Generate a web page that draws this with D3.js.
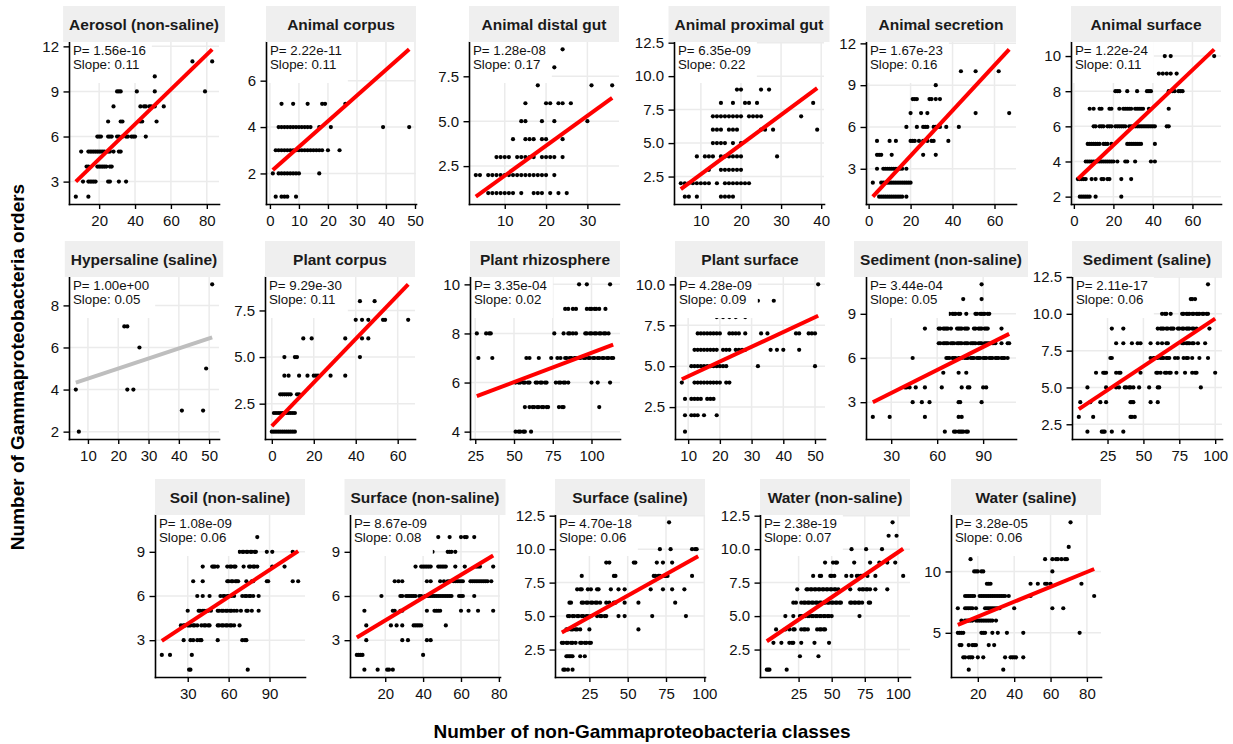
<!DOCTYPE html>
<html>
<head>
<meta charset="utf-8">
<script src="https://cdn.jsdelivr.net/npm/d3@7"></script>
<style>
  body { margin: 0; background: #fff; }
  svg { display: block; font-family: "Liberation Sans", Arial, sans-serif; }
</style>
</head>
<body>
<div id="chart"></div>
<script>
// facet names, stats and ticks

const facetNames = ["Aerosol (non-saline)", "Animal corpus", "Animal distal gut", "Animal proximal gut",
  "Animal secretion", "Animal surface", "Hypersaline (saline)", "Plant corpus", "Plant rhizosphere",
  "Plant surface", "Sediment (non-saline)", "Sediment (saline)", "Soil (non-saline)",
  "Surface (non-saline)", "Surface (saline)", "Water (non-saline)", "Water (saline)"];

const pValues = [1.56e-16, 2.22e-11, 1.28e-8, 6.35e-9, 1.67e-23, 1.22e-24, 1.00, 9.29e-30, 3.35e-4,
  4.28e-9, 3.44e-4, 2.11e-17, 1.08e-9, 8.67e-9, 4.70e-18, 2.38e-19, 3.28e-5];

const slopes = [0.11, 0.11, 0.17, 0.22, 0.16, 0.11, 0.05, 0.11, 0.02, 0.09, 0.05, 0.06, 0.06, 0.08,
  0.06, 0.07, 0.06];

// fitted line end points: [x0, y0, x1, y1]
const fitLines = [
  [7, 3.0, 83, 11.8], [1, 2.15, 48, 7.35], [3, 0.8, 36, 6.3], [5, 1.56, 39, 9.1],
  [2, 1.0, 67, 11.57], [2, 3.0, 71, 10.38], [6, 4.33, 51, 6.48], [0, 1.3, 65, 8.9],
  [26, 5.45, 114, 7.54], [8, 4.2, 51, 8.08], [18, 3.0, 107, 7.64], [5, 3.53, 100, 9.67],
  [11, 2.95, 111, 9.05], [5, 3.18, 77, 8.75], [7, 3.78, 96, 9.46], [1, 3.12, 104, 10.03],
  [9, 5.65, 84, 10.2]];

const xTicks = [[20, 40, 60, 80], [0, 10, 20, 30, 40, 50], [10, 20, 30], [10, 20, 30, 40],
  [0, 20, 40, 60], [0, 20, 40, 60], [10, 20, 30, 40, 50], [0, 20, 40, 60], [25, 50, 75, 100],
  [10, 20, 30, 40, 50], [30, 60, 90], [25, 50, 75, 100], [30, 60, 90], [20, 40, 60, 80],
  [25, 50, 75, 100], [25, 50, 75, 100], [20, 40, 60, 80]];

const yTicks = [[3, 6, 9, 12], [2, 4, 6], [2.5, 5, 7.5], [2.5, 5, 7.5, 10, 12.5], [3, 6, 9, 12],
  [2, 4, 6, 8, 10], [2, 4, 6, 8], [2.5, 5, 7.5], [4, 6, 8, 10], [2.5, 5, 7.5, 10], [3, 6, 9],
  [2.5, 5, 7.5, 10, 12.5], [3, 6, 9], [3, 6, 9], [2.5, 5, 7.5, 10, 12.5], [2.5, 5, 7.5, 10, 12.5],
  [5, 10]];

// points: [orders, [classes...]]
const ptsAerosol = [
  [2, [7, 14]],
  [3, [11, 14, 15, 16, 17, 18, 25, 26, 31, 35]],
  [4, [13, 14, 19, 20, 21, 22, 23, 24, 26, 27]],
  [5, [10, 14, 15, 16, 17, 18, 19, 20, 21, 22, 23, 25, 26, 28, 31, 32]],
  [6, [19, 20, 21, 25, 26, 27, 30, 31, 33, 35, 36, 38, 39, 40, 46]],
  [7, [25, 32, 33, 43, 44, 52]],
  [8, [28, 43, 45, 46, 48, 49, 51, 56]],
  [9, [30, 31, 32, 41, 51, 79]],
  [10, [51]],
  [11, [72, 83]]];

const ptsAnimalCorpus = [
  [1, [2, 4, 5, 6, 9]],
  [2, [1, 3, 4, 5, 6, 7, 8, 9, 10, 17]],
  [3, [2, 3, 4, 5, 6, 7, 8, 9, 10, 11, 12, 13, 14, 15, 16, 17, 18, 20, 24]],
  [4, [3, 4, 5, 6, 7, 8, 9, 10, 11, 12, 13, 14, 17, 21, 39, 48]],
  [5, [4, 8, 13, 18, 19, 26]]];

const ptsDistalGut = [
  [1, [6, 7, 8, 9, 10, 11, 12, 14, 17, 18, 19, 21, 23, 25]],
  [2, [3, 4, 6, 7, 8, 9, 10, 11, 12, 13, 14, 15, 16, 17, 18, 19, 20, 22]],
  [3, [8, 9, 10, 11, 13, 14, 15, 16, 17, 19, 20, 21, 22, 24]],
  [4, [12, 15, 16, 17, 19, 20, 24]],
  [5, [14, 15, 19, 22, 30]],
  [6, [15, 20, 21, 23, 24, 26]],
  [7, [18, 31, 36]],
  [8, [22]],
  [9, [24]]];

const ptsProximalGut = [
  [1, [6, 7, 9, 15, 16, 17, 18]],
  [2, [5, 6, 7, 8, 9, 10, 11, 12, 14, 16, 17, 18, 19, 20, 21, 22]],
  [3, [12, 15, 16, 17, 18, 19, 20]],
  [4, [9, 11, 12, 13, 15, 16, 17, 18, 19, 20, 29]],
  [5, [13, 14, 15, 16, 18, 20]],
  [6, [13, 14, 15, 17, 18, 19, 25, 26, 28, 39]],
  [7, [13, 14, 15, 16, 17, 18, 19, 20, 22, 23, 24, 25, 35]],
  [8, [15, 18, 21, 22, 24, 38]],
  [9, [19, 20, 25, 27]],
  [12, [10]]];

const ptsSecretion = [
  [1, [5, 6, 7, 8, 9, 10, 11, 12, 13, 14, 15, 16, 18]],
  [2, [2, 6, 7, 8, 9, 10, 11, 12, 13, 14, 15, 16, 17, 18, 19, 20]],
  [3, [4, 7, 8, 9, 10, 11, 12, 13, 14, 15, 16, 18]],
  [4, [4, 5, 6, 11, 26, 32]],
  [5, [4, 10, 13, 20, 21, 22, 24, 26, 28, 30, 31, 38]],
  [6, [18, 23, 26, 27, 28, 31, 32, 33, 34, 37, 43]],
  [7, [20, 25, 28, 51, 67]],
  [8, [21, 22, 23, 29, 30, 32, 34]],
  [9, [32]],
  [10, [44, 51, 62]]];

const ptsAnimalSurface = [
  [2, [3, 4, 5, 6, 7, 8, 11, 24]],
  [3, [2, 3, 4, 5, 6, 9, 11, 14, 15, 17, 18, 24, 29]],
  [4, [6, 7, 8, 9, 10, 11, 12, 13, 14, 15, 16, 17, 18, 19, 20, 22, 26, 27, 31, 39, 41]],
  [5, [7, 8, 9, 10, 11, 12, 13, 15, 16, 17, 19, 27, 28, 29, 30, 31, 32, 33, 34, 41]],
  [6, [10, 11, 13, 14, 15, 17, 18, 19, 21, 22, 23, 24, 25, 26, 28, 29, 30, 31, 32, 33, 34, 35, 36,
    37, 38, 39, 40, 41, 47, 48]],
  [7, [8, 10, 13, 14, 18, 19, 23, 25, 26, 27, 28, 29, 31, 32, 33, 34, 35, 38, 48]],
  [8, [21, 22, 23, 27, 32, 37, 38, 39, 48, 49, 50, 51, 53, 54, 55]],
  [9, [43, 45, 47, 49, 52]],
  [10, [46, 49, 71]]];

const ptsHypersaline = [
  [2, [7]],
  [3, [41, 48]],
  [4, [6, 23, 25]],
  [5, [49]],
  [6, [27]],
  [7, [22, 23]],
  [9, [51]]];

const ptsPlantCorpus = [
  [1, [0, 1, 2, 3, 4, 5, 6, 7, 8, 9, 10, 11]],
  [2, [1, 2, 3, 4, 5, 6, 7, 8, 9, 10, 11]],
  [3, [4, 5, 6, 7, 8, 9, 12, 13]],
  [4, [6, 8, 13, 17, 20, 21, 22, 28, 35]],
  [5, [6, 11, 12, 42]],
  [6, [15, 19, 35, 43, 46]],
  [7, [40, 43, 46, 53, 54, 65]],
  [8, [42, 49]]];

const ptsRhizosphere = [
  [4, [51, 53, 54, 56, 57, 61]],
  [5, [57, 60, 62, 63, 65, 66, 68, 69, 71, 72, 79, 81, 82, 105]],
  [6, [51, 53, 54, 56, 57, 59, 60, 64, 65, 67, 68, 70, 71, 77, 79, 80, 82, 83, 85, 100, 104, 112]],
  [7, [27, 36, 58, 60, 66, 74, 78, 80, 83, 84, 86, 87, 89, 90, 92, 93, 95, 96, 98, 99, 101, 102,
    104, 105, 107, 108, 110, 111, 113, 114]],
  [8, [26, 32, 34, 35, 76, 82, 85, 86, 88, 90, 96, 97, 99, 100, 102, 103, 105, 106, 108, 109, 111]],
  [9, [83, 85, 88, 90, 97, 99, 100, 102, 103, 105, 109]],
  [10, [92, 97, 112]]];

const ptsPlantSurface = [
  [1, [9]],
  [2, [9, 11, 12, 13, 15, 19]],
  [3, [9, 11, 12, 13, 14, 16, 17, 18]],
  [4, [8, 12, 13, 14, 15, 16, 17, 18, 19, 20, 22, 23]],
  [5, [11, 12, 13, 14, 15, 16, 17, 18, 19, 20, 21, 22, 32, 50]],
  [6, [12, 13, 14, 15, 16, 17, 18, 19, 21, 22, 23, 25, 26, 27, 28, 36, 38, 40, 45]],
  [7, [13, 14, 15, 16, 17, 18, 19, 20, 23, 24, 25, 26, 28, 33, 35, 44, 45, 48, 49, 50]],
  [8, [19, 21, 23, 25, 28]],
  [9, [32, 37]],
  [10, [51]]];

const ptsSedimentNonSaline = [
  [1, [65, 71, 72, 74, 75, 76, 77, 79, 80]],
  [2, [18, 29, 52, 74, 76]],
  [3, [44, 50, 55, 74, 75, 89]],
  [4, [39, 40, 42, 46, 52, 63, 76, 80, 81, 90, 92]],
  [5, [64, 74, 79]],
  [6, [44, 66, 67, 68, 70, 71, 72, 74, 75, 76, 78, 79, 80, 82, 83, 84, 86, 87, 88, 90, 91, 92, 94,
    95, 96, 98, 99, 100, 102, 103, 104, 106]],
  [7, [61, 62, 64, 65, 66, 67, 69, 70, 71, 73, 74, 75, 76, 78, 79, 80, 82, 83, 84, 85, 87, 88, 89,
    91, 92, 93, 94, 96, 97, 98, 102, 106, 107]],
  [8, [52, 61, 62, 64, 65, 66, 67, 69, 73, 74, 75, 76, 78, 79, 80, 84, 85, 87, 88, 89, 91, 92, 93,
    102]],
  [9, [68, 70, 71, 72, 74, 75, 79, 85, 86, 88, 89, 90, 91, 93, 94]],
  [10, [77, 89]],
  [11, [89]]];

const ptsSedimentSaline = [
  [2, [11, 21, 22, 23, 28, 36]],
  [3, [5, 15, 41, 42, 44]],
  [4, [6, 13, 20, 24, 41, 42, 43, 55, 60]],
  [5, [11, 24, 31, 33, 37, 38, 40, 41, 43, 47, 54, 60, 61, 90]],
  [6, [17, 22, 23, 24, 31, 33, 34, 48, 59, 60, 62, 65, 66, 68, 69, 73, 79, 84, 86, 87, 100]],
  [7, [27, 28, 55, 57, 58, 59, 60, 62, 63, 64, 66, 67, 68, 72, 74, 78, 80, 81, 84, 89, 95]],
  [8, [31, 36, 42, 46, 48, 55, 60, 63, 66, 67, 77, 78, 80, 81, 82, 84, 85, 88, 93]],
  [9, [28, 36, 60, 62, 63, 64, 66, 67, 69, 70, 71, 74, 75, 77, 78, 80, 81, 82, 84, 85, 87, 96]],
  [10, [63, 65, 66, 69, 77, 78, 80, 81, 82, 84, 85, 87, 88, 89, 91, 92, 94, 95]],
  [11, [83, 84, 86]],
  [12, [95]]];

const ptsSoil = [
  [1, [31, 32, 74]],
  [2, [11, 17, 33]],
  [3, [27, 32, 34, 37, 39, 40, 52, 70, 72, 73]],
  [4, [25, 27, 28, 30, 31, 32, 34, 35, 37, 40, 42, 43, 45, 46, 52, 53, 55, 56, 58, 59, 61, 62, 64,
    68]],
  [5, [30, 38, 39, 41, 42, 44, 45, 47, 52, 53, 55, 56, 58, 59, 61, 62, 64, 66, 69, 73, 74, 77, 82]],
  [6, [37, 41, 46, 54, 56, 57, 59, 60, 62, 64, 70, 72, 73, 75, 76, 78, 82]],
  [7, [34, 41, 59, 60, 62, 63, 65, 66, 67, 73, 77, 78, 88, 89, 107, 111]],
  [8, [41, 48, 49, 50, 52, 59, 61, 62, 64, 65, 71, 75, 76, 78, 79, 81, 92, 101]],
  [9, [68, 70, 71, 73, 74, 76, 77, 79, 80, 88, 92, 107]],
  [10, [81]],
  [11, [40]]];

const ptsSurfaceNonSaline = [
  [1, [9, 16, 21, 22, 24]],
  [2, [5, 6, 7, 8, 40]],
  [3, [10, 29, 32, 42, 44]],
  [4, [10, 23, 26, 29, 35, 36, 37, 38, 39, 52]],
  [5, [9, 24, 25, 28, 29, 42, 46, 47, 48, 49, 60, 64, 69, 77]],
  [6, [18, 28, 29, 31, 32, 33, 34, 35, 36, 38, 39, 41, 42, 43, 44, 45, 46, 47, 48, 49, 50, 51, 52,
    53, 54, 55, 59, 60, 61, 67]],
  [7, [25, 27, 29, 42, 44, 49, 51, 53, 54, 56, 57, 58, 59, 60, 61, 65, 66, 67, 68, 69, 70, 71, 72,
    73, 74, 76]],
  [8, [36, 39, 40, 41, 42, 43, 44, 48, 49, 50, 51, 52, 57, 62, 68, 69, 70, 77]],
  [9, [45, 53, 54, 55, 57]],
  [10, [48, 54, 60, 62, 63, 67]],
  [11, [30]]];

const ptsSurfaceSaline = [
  [1, [8, 9, 11, 14]],
  [2, [10, 11, 12, 13, 14, 19, 22]],
  [3, [7, 8, 10, 11, 13, 14, 16, 19, 20, 22, 23, 25, 26]],
  [4, [10, 11, 13, 14, 16, 17, 19, 25, 57]],
  [5, [11, 12, 14, 15, 17, 18, 20, 21, 23, 24, 26, 30, 32, 33, 35, 36, 44, 48, 66, 88]],
  [6, [12, 13, 20, 21, 23, 24, 26, 27, 29, 30, 32, 36, 38, 41, 42, 48, 57, 81]],
  [7, [17, 19, 20, 24, 26, 30, 31, 39, 44, 48, 65, 73, 79, 87]],
  [8, [20, 41, 42, 67, 68, 70, 71, 74, 75, 76, 92]],
  [9, [36, 38, 54, 55, 69, 73, 79]],
  [10, [71, 78, 92, 94, 95]],
  [12, [77]]];

const ptsWaterNonSaline = [
  [1, [1, 2, 3, 16]],
  [2, [26, 40]],
  [3, [6, 12, 18, 20, 21, 27, 37, 48]],
  [4, [8, 15, 18, 21, 22, 27, 29, 30, 32, 39, 41, 42, 44, 45]],
  [5, [15, 21, 26, 27, 29, 30, 32, 33, 35, 36, 38, 39, 41, 42, 44, 45, 47, 48, 50, 71]],
  [6, [21, 23, 27, 29, 30, 32, 33, 35, 36, 38, 39, 41, 42, 44, 45, 47, 48, 50, 51, 53, 54, 56, 57,
    64, 65, 67, 68, 70, 71, 73, 78, 79]],
  [7, [24, 31, 32, 34, 35, 37, 38, 40, 41, 43, 44, 46, 47, 49, 50, 52, 53, 55, 64, 71, 73, 74, 76,
    77, 79, 83, 92]],
  [8, [36, 41, 42, 49, 50, 52, 61, 65, 69, 70, 72, 73, 77, 83, 104]],
  [9, [45, 51, 53, 54, 67, 79, 86, 92, 98]],
  [10, [65, 76, 88]],
  [11, [93, 99]],
  [12, [96]]];

const ptsWaterSaline = [
  [2, [15, 34]],
  [3, [12, 13, 15, 16, 17, 20, 23, 35, 38, 39, 40, 41, 45]],
  [4, [10, 11, 15, 17, 18, 19, 26, 29]],
  [5, [9, 10, 11, 12, 22, 23, 24, 28, 31, 36, 45, 76]],
  [6, [11, 13, 14, 15, 16, 17, 19, 20, 21, 22, 23, 24, 25, 26, 27, 28, 30]],
  [7, [9, 13, 14, 15, 16, 17, 19, 24, 25, 26, 27, 28, 29, 30, 31, 32, 40, 61, 67]],
  [8, [13, 14, 15, 16, 17, 18, 21, 22, 23, 24, 25, 26, 27, 28, 29, 30, 31, 32, 33, 34, 35, 37, 49,
    84]],
  [9, [25, 26, 27, 49, 53, 57, 58, 60, 77]],
  [10, [18, 19, 20, 22, 23, 61]],
  [11, [16, 57, 61, 63, 64, 66, 68, 69]],
  [12, [70]],
  [14, [71]]];

const pointSets = [ptsAerosol, ptsAnimalCorpus, ptsDistalGut, ptsProximalGut, ptsSecretion,
  ptsAnimalSurface, ptsHypersaline, ptsPlantCorpus, ptsRhizosphere, ptsPlantSurface,
  ptsSedimentNonSaline, ptsSedimentSaline, ptsSoil, ptsSurfaceNonSaline, ptsSurfaceSaline,
  ptsWaterNonSaline, ptsWaterSaline];

// layout

const width = 1233, height = 744;
const panelW = 150, panelH = 162, stripH = 36;
const rowTop = [42, 277, 515];
const colLeft = [[69, 266, 469, 674, 866, 1071], [69, 265, 470, 675, 866, 1072],
  [155, 350, 555, 760, 951]];
const fontFam = "'Liberation Sans', Arial, Helvetica, sans-serif";

const svg = d3.select("#chart")
  .append("svg")
    .attr("width", width)
    .attr("height", height);

function expand(ext) {
  const pad = (ext[1] - ext[0]) * 0.05;
  return [ext[0] - pad, ext[1] + pad];
}

function fmtP(v) {
  return "P= " + v.toExponential(2).replace(/e([+-])(\d)$/, "e$10$2");
}

facetNames.forEach(function(name, i) {
  const row = i < 6 ? 0 : (i < 12 ? 1 : 2);
  const col = row === 0 ? i : (row === 1 ? i - 6 : i - 12);
  const left = colLeft[row][col];
  const top = rowTop[row];

  const pts = pointSets[i].flatMap(([yv, xs]) => xs.map(xv => ({ x: xv, y: yv })));
  const fit = fitLines[i];

  const x = d3.scaleLinear()
    .domain(expand(d3.extent(pts.map(d => d.x).concat([fit[0], fit[2]]))))
    .range([left, left + panelW]);
  const y = d3.scaleLinear()
    .domain(expand(d3.extent(pts.map(d => d.y).concat([fit[1], fit[3]]))))
    .range([top + panelH, top]);

  const xt = xTicks[i].filter(v => v >= x.domain()[0] && v <= x.domain()[1]);
  const yt = yTicks[i].filter(v => v >= y.domain()[0] && v <= y.domain()[1]);

  const g = svg.append("g");

  // grid lines
  g.selectAll(".vgrid").data(xt).join("line")
    .attr("x1", d => x(d)).attr("x2", d => x(d))
    .attr("y1", top).attr("y2", top + panelH)
    .attr("stroke", "#EBEBEB").attr("stroke-width", 1.5);
  g.selectAll(".hgrid").data(yt).join("line")
    .attr("x1", left).attr("x2", left + panelW)
    .attr("y1", d => y(d)).attr("y2", d => y(d))
    .attr("stroke", "#EBEBEB").attr("stroke-width", 1.5);

  // points
  g.selectAll("circle").data(pts).join("circle")
    .attr("cx", d => x(d.x))
    .attr("cy", d => y(d.y))
    .attr("r", 2.1)
    .attr("fill", "#000");

  // regression line
  const lineData = [{ x: fit[0], y: fit[1] }, { x: fit[2], y: fit[3] }];
  g.append("path")
    .datum(lineData)
    .attr("d", d3.line().x(d => x(d.x)).y(d => y(d.y)))
    .attr("stroke", pValues[i] < 0.05 ? "#FF0000" : "#BEBEBE")
    .attr("stroke-width", 4)
    .attr("fill", "none");

  // stats label with white box
  const box = g.append("rect").attr("fill", "#fff");
  const lab = g.append("text")
    .attr("font-family", fontFam)
    .attr("font-size", 13.3)
    .attr("fill", "#111");
  lab.append("tspan").attr("x", left + 4).attr("y", top + 13).text(fmtP(pValues[i]));
  lab.append("tspan").attr("x", left + 4).attr("y", top + 27).text("Slope: " + d3.format(".2f")(slopes[i]));
  const lw = lab.node().getBBox().width;
  box.attr("x", left).attr("y", top).attr("width", lw + 10).attr("height", 41);

  // axes
  const fmtX = xt.some(v => v % 1 !== 0) ? d3.format(".1f") : d3.format("d");
  const fmtY = yt.some(v => v % 1 !== 0) ? d3.format(".1f") : d3.format("d");

  const gx = g.append("g")
    .attr("transform", `translate(0,${top + panelH})`)
    .call(d3.axisBottom(x).tickValues(xt).tickFormat(fmtX).tickSize(5).tickSizeOuter(0).tickPadding(6));
  const gy = g.append("g")
    .attr("transform", `translate(${left},0)`)
    .call(d3.axisLeft(y).tickValues(yt).tickFormat(fmtY).tickSize(5.5).tickSizeOuter(0).tickPadding(4.5));

  [gx, gy].forEach(function(a) {
    a.attr("font-family", fontFam).attr("font-size", 15);
    a.select(".domain").attr("stroke", "#000").attr("stroke-width", 1.6).attr("stroke-linecap", "square");
    a.selectAll(".tick line").attr("stroke", "#000").attr("stroke-width", 1.4);
    a.selectAll(".tick text").attr("fill", "#111");
  });

  // strip
  const strip = g.append("rect").attr("fill", "#EFEFEF");
  const st = g.append("text")
    .attr("x", left + panelW / 2)
    .attr("y", top - stripH / 2 + 5.5)
    .attr("text-anchor", "middle")
    .attr("font-family", fontFam)
    .attr("font-size", 15.5)
    .attr("font-weight", "bold")
    .attr("fill", "#1a1a1a")
    .text(name);
  const sw = Math.max(panelW, st.node().getComputedTextLength() + 12);
  strip.attr("x", left + panelW / 2 - sw / 2).attr("y", top - stripH)
    .attr("width", sw).attr("height", stripH);
});

// axis titles
svg.append("text")
  .attr("x", 642)
  .attr("y", 738)
  .attr("text-anchor", "middle")
  .attr("font-family", fontFam)
  .attr("font-size", 19)
  .attr("font-weight", "bold")
  .text("Number of non-Gammaproteobacteria classes");

svg.append("text")
  .attr("transform", "rotate(-90)")
  .attr("x", -367)
  .attr("y", 24)
  .attr("text-anchor", "middle")
  .attr("font-family", fontFam)
  .attr("font-size", 19)
  .attr("font-weight", "bold")
  .text("Number of Gammaproteobacteria orders");
</script>
</body>
</html>
